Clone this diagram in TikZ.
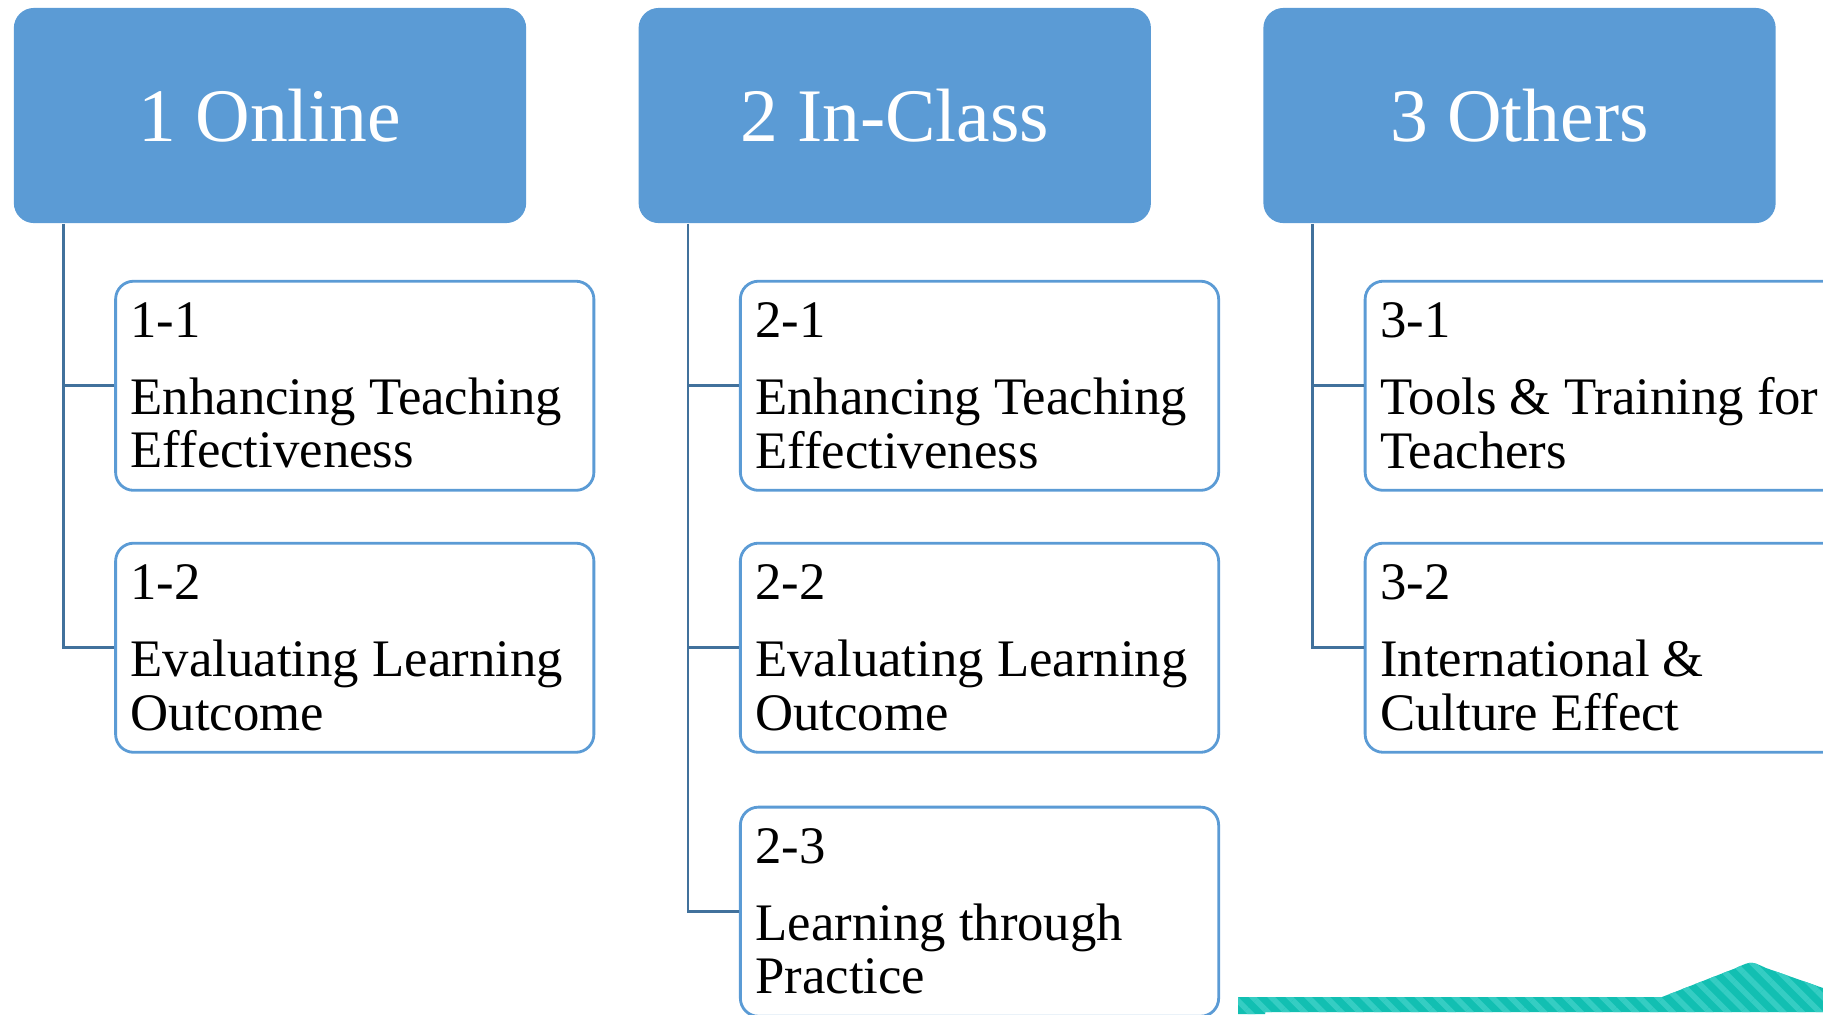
\documentclass[tikz,border=0pt]{standalone}
\usepackage{fontspec}
\setmainfont{Liberation Serif}
\usepackage{xcolor}
\usetikzlibrary{patterns,patterns.meta,positioning}
\definecolor{hdrblue}{HTML}{5B9BD5}
\definecolor{linkblue}{HTML}{41719C}
\definecolor{ribbon}{HTML}{12BFB2}
\definecolor{ribbonlight}{HTML}{35CDC3}
\tikzset{main node/.style={rectangle,rounded corners=.2cm,fill=hdrblue,text=white,minimum width=5.12cm,minimum height=2.15cm,inner sep=0pt,font=\fontsize{21.5}{25}\selectfont},
         sub node/.style={rectangle,rounded corners=.18cm,draw=hdrblue,line width=.8pt,fill=white,minimum width=4.78cm,minimum height=2.09cm,text width=4.48cm,inner xsep=.15cm,inner ysep=0pt,align=flush left,font=\fontsize{15}{15.1}\selectfont},
         link/.style={draw=linkblue,line width=.8pt},
            }
\newcommand{\numgap}{\\[6.8pt]}

\begin{document}
\begin{tikzpicture}[x=0.01cm,y=-0.01cm]
    \clip (0,0) rectangle (1823,1014);

    % column heads
    \node[main node] (1) at (270,115.5) {1 Online};
    \node[main node] (2) [right = 1.11cm of 1] {2 In-Class};
    \node[main node] (3) [right = 1.11cm of 2] {3 Others};

    % items under each head
    \node[sub node] (11) [below right = .56cm and 1.01cm of 1.south west] {1-1\numgap Enhancing Teaching\\Effectiveness};
    \node[sub node] (12) [below = .50cm of 11] {1-2\numgap Evaluating Learning\\Outcome};

    \node[sub node] (21) [below right = .56cm and 1.01cm of 2.south west] {2-1\numgap Enhancing Teaching\\Effectiveness};
    \node[sub node] (22) [below = .50cm of 21] {2-2\numgap Evaluating Learning\\Outcome};
    \node[sub node] (23) [below = .52cm of 22] {2-3\numgap Learning through\\Practice};

    \node[sub node] (31) [below right = .56cm and 1.01cm of 3.south west] {3-1\numgap \mbox{Tools \& Training for}\\Teachers};
    \node[sub node] (32) [below = .50cm of 31] {3-2\numgap International \&\\Culture Effect};

    \path[link] ([xshift=.5cm]1.south west) |- (11.west);
    \path[link] ([xshift=.5cm]1.south west) |- (12.west);

    \path[link] ([xshift=.5cm]2.south west) |- (21.west);
    \path[link] ([xshift=.5cm]2.south west) |- (22.west);
    \path[link] ([xshift=.5cm]2.south west) |- (23.west);

    \path[link] ([xshift=.5cm]3.south west) |- (31.west);
    \path[link] ([xshift=.5cm]3.south west) |- (32.west);

    % striped band at the lower right
    \path[fill=ribbon,postaction={pattern={Lines[angle=-45,distance=3.7pt,line width=1.6pt]},pattern color=ribbonlight}]
    (1238,1014) -- (1238,997) -- (1662,997) -- (1736,968) .. controls (1751,961) .. (1766,968)
    -- (1823,988) -- (1823,1012) -- (1265,1012) -- (1265,1014) -- cycle;

\end{tikzpicture}
\end{document}
